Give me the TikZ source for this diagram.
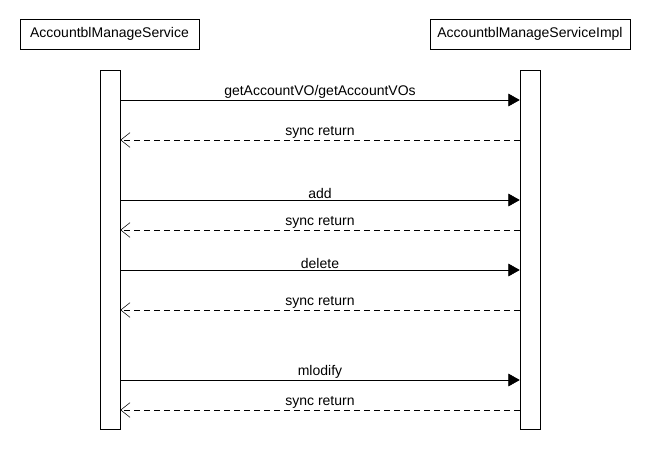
\documentclass[tikz,border=0pt]{standalone}
\usepackage{fontspec}
\setmainfont{Liberation Sans}
\usetikzlibrary{arrows.meta}
\begin{document}
\begin{tikzpicture}[x=0.75pt, y=-0.75pt, font=\fontsize{10.5}{12}\selectfont,
    lifebox/.style={draw, inner sep=0pt, minimum height=22.5pt},
    actbar/.style={draw, inner sep=0pt, minimum width=15pt, minimum height=269.25pt},
    call/.style={-{Triangle[length=8.5pt, width=9.5pt]}},
    ret/.style={dash pattern=on 4.5pt off 3pt, -{Straight Barb[length=7pt, width=11pt]}},
    msg/.style={above, inner sep=1pt}]
    \useasboundingbox (0,0) rectangle (650,450);
    \node [lifebox, minimum width=134.25pt] (svc) at (109.5,34) {AccountblManageService};
    \node [lifebox, minimum width=150pt] (impl) at (530,34) {AccountblManageServiceImpl};
    \node [actbar] (lbar) at (110,249.5) {};
    \node [actbar] (rbar) at (530,249.5) {};
    \foreach \y/\txt in {100/{getAccountVO/getAccountVOs}, 200/add, 270/delete, 380/mlodify}
    {
        \draw [call] (lbar.east |- 0,\y) -- node [msg]{\txt} (rbar.west |- 0,\y);
    }
    \foreach \y in {140, 230, 310, 410}
    {
        \draw [ret] (rbar.west |- 0,\y) -- node [msg]{sync return} (lbar.east |- 0,\y);
    }
\end{tikzpicture}
\end{document}
